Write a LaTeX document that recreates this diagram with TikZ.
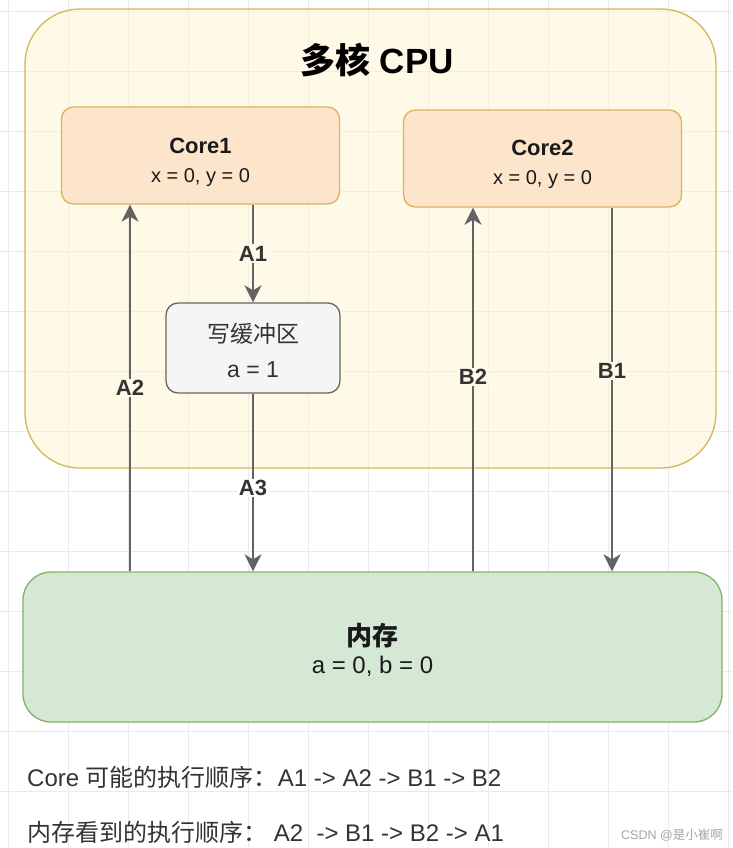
\documentclass[tikz,border=0pt]{standalone}
\usepackage{fontspec}
\setmainfont{Liberation Sans}
\newfontfamily\cjk{Noto Sans CJK SC}
\newcommand{\zhtxt}[1]{{\cjk #1}}
\usetikzlibrary{arrows.meta}
\definecolor{gridc}{HTML}{EAEAEA}
\definecolor{cpufill}{HTML}{FFF2CC}
\definecolor{cpuline}{HTML}{D6B656}
\definecolor{corefill}{HTML}{FDE5CB}
\definecolor{coreline}{HTML}{DDB25E}
\definecolor{buffill}{HTML}{F5F5F5}
\definecolor{bufline}{HTML}{666666}
\definecolor{memfill}{HTML}{D5E8D4}
\definecolor{memline}{HTML}{82B366}
\definecolor{arrc}{HTML}{636363}
\definecolor{txtc}{HTML}{1A1A1A}
\definecolor{softtxt}{HTML}{333333}
\colorlet{lblbg}{cpufill!45!white}
\tikzset{
  gridline/.style={draw=gridc, line width=0.9pt},
  box/.style={draw, inner sep=0pt, line width=1.3pt},
  cpubox/.style={box, fill=cpufill, fill opacity=0.45, draw=cpuline, draw opacity=1, rounded corners=55pt},
  corebox/.style={box, fill=corefill, draw=coreline, rounded corners=12pt,
    minimum width=278pt, minimum height=97pt},
  bufbox/.style={box, fill=buffill, draw=bufline, rounded corners=12pt,
    minimum width=174pt, minimum height=90pt},
  membox/.style={box, fill=memfill, draw=memline, rounded corners=28pt,
    minimum width=699pt, minimum height=150pt},
  boxtext/.style={align=center, inner sep=0pt, text=txtc},
  arr/.style={draw=arrc, line width=2.5pt, -{Stealth[length=17pt, width=17pt, inset=5pt]}},
  lbl/.style={fill=lblbg, text=softtxt, font=\fontsize{22}{24}\selectfont\bfseries, inner sep=1.5pt},
  note/.style={anchor=west, text=softtxt, font=\fontsize{24}{26}\selectfont, inner sep=0pt},
}
\begin{document}
\begin{tikzpicture}[x=1pt, y=-1pt]
\useasboundingbox (0,0) rectangle (732,848);
\fill[white] (0,0) rectangle (732,848);
% background grid
\foreach \gx in {8,68,...,728} \draw[gridline] (\gx,0) -- (\gx,848);
\foreach \gy in {11,71,...,791} \draw[gridline] (0,\gy) -- (732,\gy);

% CPU container
\node[cpubox, minimum width=691pt, minimum height=459pt] (cpu) at (370.5,238.5) {};
\node[font=\fontsize{35}{40}\selectfont\bfseries, text=black] (title) at (377,60) {\zhtxt{多核} CPU};

% cores
\node[corebox] (core1) at (200.5,155.5) {};
\node[boxtext, font=\fontsize{20}{29}\selectfont] (core1txt) at (200.5,162) {{\fontsize{22}{29}\selectfont\bfseries Core1}\\x = 0, y = 0};
\node[corebox] (core2) at (542.5,158.5) {};
\node[boxtext, font=\fontsize{20}{29}\selectfont] (core2txt) at (542.5,164) {{\fontsize{22}{29}\selectfont\bfseries Core2}\\x = 0, y = 0};

% write buffer
\node[bufbox] (buf) at (253,348) {};
\node[boxtext, text=softtxt, font=\fontsize{23}{35}\selectfont] (buftxt) at (253,350.5) {\zhtxt{写缓冲区}\\a = 1};

% memory
\node[membox] (mem) at (372.5,647) {};
\node[boxtext, font=\fontsize{24}{28}\selectfont] (memtxt) at (372.5,650) {{\fontsize{26}{28}\selectfont\bfseries\zhtxt{内存}}\\a = 0, b = 0};

% x positions of connectors
\coordinate (xa2) at (130,0);
\coordinate (xa1) at (253,0);
\coordinate (xb2) at (473,0);
\coordinate (xb1) at (612,0);

\draw[arr] (xa2 |- mem.north) -- (xa2 |- core1.south) node[lbl, pos=0.5] {A2};
\draw[arr] (xa1 |- core1.south) -- (buf.north) node[lbl, pos=0.5] {A1};
\draw[arr] (buf.south) -- (xa1 |- mem.north) node[lbl, fill=white, pos=0.53] {A3};
\draw[arr] (xb2 |- mem.north) -- (xb2 |- core2.south) node[lbl, pos=0.534] {B2};
\draw[arr] (xb1 |- core2.south) -- (xb1 |- mem.north) node[lbl, pos=0.45] {B1};

% notes
\node[note] (n1) at (27,777) {Core \zhtxt{可能的执行顺序：}A1 -> A2 -> B1 -> B2};
\node[note] (n2) at (27,832) {\zhtxt{内存看到的执行顺序：} A2\ \ -> B1 -> B2 -> A1};
\node[anchor=west, inner sep=0pt, text=gray!70, font=\fontsize{12.5}{14}\selectfont] (wm) at (621,835) {CSDN @\zhtxt{是小崔啊}};
\end{tikzpicture}
\end{document}
